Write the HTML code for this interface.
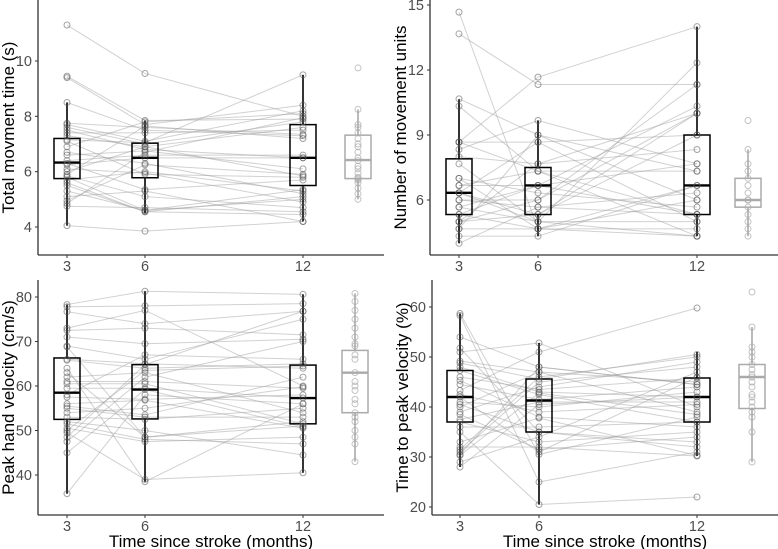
<!DOCTYPE html>
<html><head><meta charset="utf-8"><style>
html,body{margin:0;padding:0;background:#fff;}
svg{display:block;font-family:"Liberation Sans",Arial,sans-serif;}
</style></head><body>
<svg id="chart" width="778" height="549" viewBox="0 0 778 549"></svg>
<script>
// x categories
const categories = ["3","6","12"];
// Panel A: total movement time (s)
const aT3 = [11.3,9.45,9.4,8.5,7.75,7.7,7.6,7.5,7.3,7.15,7.1,6.7,6.6,6.4,6.3,6.25,6.1,5.9,5.85,5.8,5.7,5.6,5.5,5.1,4.95,4.85,4.75,4.05,6.9,7.4,5.3,6.0];
const aT6 = [9.55,7.85,7.7,7.5,7.6,7.1,7.0,6.8,6.9,7.05,5.9,6.3,6.75,6.6,5.35,6.5,5.95,7.65,5.1,4.6,6.0,4.55,4.55,5.3,6.25,6.7,4.7,3.85,7.8,7.4,4.6,6.9];
const aT12 = [8.0,7.9,8.4,7.3,7.35,8.2,7.8,6.5,7.6,9.5,5.8,5.2,6.1,6.6,5.7,6.5,4.9,7.2,4.7,5.0,5.3,5.1,4.45,4.2,5.9,7.95,4.55,4.2,8.1,7.5,5.35,5.85];
const aCtrl = [9.75,8.25,7.7,7.6,7.4,7.2,7.0,6.9,6.7,6.5,6.4,6.2,6.1,5.95,5.8,5.75,5.7,5.6,5.4,5.2,5.0];
const aBoxes = [[4.05,5.75,6.33,7.2,8.5],[4.5,5.78,6.5,7.03,7.85],[4.2,5.5,6.5,7.7,9.5],[5.0,5.75,6.42,7.32,8.25]];
const aTicks = [4,6,8,10];
// Panel B: number of movement units
const bT3 = [14.67,13.67,10.67,10.33,8.67,8.67,8.33,8.0,7.67,7.0,6.67,6.67,6.33,6.33,6.0,6.0,5.67,5.33,5.33,5.0,5.0,4.67,4.67,4.33,4.0,8.67,7.0,5.67,6.33,5.0];
const bT6 = [4.67,11.33,9.0,7.33,11.67,8.67,9.67,7.67,5.0,6.33,7.33,6.67,5.33,8.67,6.0,5.67,5.0,4.67,6.67,5.33,7.67,9.0,4.67,4.33,5.67,7.33,4.67,6.67,5.0,6.0];
const bT12 = [4.33,11.33,6.0,5.33,14.0,9.0,7.67,10.0,12.33,5.67,7.33,10.33,9.0,5.0,11.33,6.33,4.33,6.67,5.33,10.0,8.33,7.33,4.67,6.67,5.33,4.33,6.0,7.67,5.0,10.0];
const bCtrl = [9.67,8.33,7.67,7.33,7.0,6.67,6.33,6.0,6.0,5.67,5.33,5.0,4.67,4.33];
const bBoxes = [[4.0,5.33,6.33,7.9,10.65],[4.33,5.33,6.67,7.5,9.67],[4.33,5.33,6.67,9.0,14.0],[4.33,5.67,6.0,7.0,8.33]];
const bTicks = [6,9,12,15];
// Panel C: peak hand velocity (cm/s)
const cT3 = [78.3,77.8,76.7,73,72.5,71,69,68.8,66,65.8,64,62,61,60.5,59.5,57.5,56,55.5,55,53,52,51.5,50.5,49.5,48.5,47.5,45,35.8,58,63,54,50];
const cT6 = [81.3,78,74,77,73,69.5,66,48.5,65,64,38.5,63,61,60.5,59.5,57,56.8,53.5,53,52.5,50,48,47.5,39,64.8,62,59.2,58,67,48.5,55,63.5];
const cT12 = [80.6,78.5,76.8,60,71.5,70.5,75,52,64,65,56,54,59.5,51.5,57.3,58,50.5,62,53,55,44.5,47,48.5,40.5,76.8,70,50.8,56,66,51,59.8,64.5];
const cCtrl = [80.8,79,77,75,73,71,69.5,69,67,66,63,61,60,59,57,56,54,53,52,50,48.5,47,43];
const cBoxes = [[35.8,52.5,58.5,66.3,78.3],[38.5,52.6,59.2,64.8,81.3],[40.5,51.5,57.3,64.7,80.6],[43,54,63,68,80.8]];
const cTicks = [40,50,60,70,80];
// Panel D: time to peak velocity (%)
const dT3 = [58.7,58.3,54,51.8,51,49.2,48.8,48,47.3,45.3,44.5,43.3,42,41,40.5,40,39,37.5,37,35,33,32,31.5,31,30.5,30.3,29,28,38.5,46,36,42.5];
const dT6 = [30.5,25,48,35,52.8,47,45.6,43,42.5,38,41.5,51,31,40,35,47,44,41,33,20.5,37.8,32,46,45,48,42.8,34,40.5,31.5,43.5,36,39];
const dT12 = [38,31,44.5,33,40,45,50.5,42,37,36,44,59.8,46,43,32,39,49,41,35,22,30.3,30.2,50,48,44.5,38.5,47,42,34,45.8,37,40.5];
const dCtrl = [63,56,52,51,50,48.5,47.5,46.5,46,45,44,42.5,42,41,40,39,38,35,29];
const dBoxes = [[28,37,42,47.3,58.7],[20.5,35,41.3,45.6,52.8],[30.2,37,42,45.8,51],[29,39.7,46,48.5,56]];
const dTicks = [20,30,40,50,60];

const NS="http://www.w3.org/2000/svg";
const svg=document.getElementById('chart');
function mk(tag,attrs,parent){const e=document.createElementNS(NS,tag);for(const k in attrs)e.setAttribute(k,attrs[k]);(parent||svg).appendChild(e);return e;}

function panel(p){
  const g=mk('g',{});
  
  
  const y=v=>p.y0+(v-p.v0)*(p.y1-p.y0)/(p.v1-p.v0);
  const xs=p.xs;
  const lg=mk('g',{},g);
  
  
  for(let i=0;i<p.t3.length;i++){
    const l=mk('polyline',{points:`${xs[0]},${y(p.t3[i])} ${xs[1]},${y(p.t6[i])} ${xs[2]},${y(p.t12[i])}`,fill:'none',stroke:'#999','stroke-opacity':0.45,'stroke-width':1},lg);
    
    
  }
  p.boxes.forEach((b,i)=>{
    const ctrl=i===3, col=ctrl?'#aaa':'#000', x=xs[i], w=26;
    const bg=mk('g',{},g);
    
    
    mk('line',{x1:x,x2:x,y1:y(b[0]),y2:y(b[1]),stroke:col,'stroke-width':1.6},bg);
    mk('line',{x1:x,x2:x,y1:y(b[3]),y2:y(b[4]),stroke:col,'stroke-width':1.6},bg);
    mk('rect',{x:x-w/2,y:y(b[3]),width:w,height:y(b[1])-y(b[3]),fill:'none',stroke:col,'stroke-width':1.5},bg);
    mk('line',{x1:x-w/2,x2:x+w/2,y1:y(b[2]),y2:y(b[2]),stroke:col,'stroke-width':2.4},bg);
  });
  const sets=[p.t3,p.t6,p.t12,p.ctrl];
  sets.forEach((s,i)=>{
    s.forEach(v=>{
      const c=mk('circle',{cx:xs[i],cy:y(v),r:3,fill:'none',stroke:i===3?'#aaa':'#555','stroke-opacity':i===3?0.7:0.55,'stroke-width':1},g);
      
      
    });
  });
  mk('line',{x1:p.ax,x2:p.ax,y1:p.top,y2:p.ay,stroke:'#333','stroke-width':1.3},g);
  mk('line',{x1:p.ax,x2:p.right,y1:p.ay,y2:p.ay,stroke:'#333','stroke-width':1.3},g);
  p.ticks.forEach(t=>{
    mk('line',{x1:p.ax-3,x2:p.ax,y1:y(t),y2:y(t),stroke:'#333','stroke-width':1},g);
    const tx=mk('text',{x:p.ax-6,y:y(t)+5,'text-anchor':'end','font-size':14.5,fill:'#4d4d4d'},g);
    tx.textContent=t;
    
    
  });
  categories.forEach((c,i)=>{
    mk('line',{x1:xs[i],x2:xs[i],y1:p.ay,y2:p.ay+3,stroke:'#333','stroke-width':1},g);
    const tx=mk('text',{x:xs[i],y:p.ay+16,'text-anchor':'middle','font-size':14.5,fill:'#4d4d4d'},g);
    tx.textContent=c;
    
    
  });
  const yt=mk('text',{x:0,y:0,transform:`translate(${p.ax-24},${(p.top+p.ay)/2}) rotate(-90)`,'text-anchor':'middle','font-size':17,fill:'#000'},g);
  yt.textContent=p.ylabel;
  
  
  if(p.xlabel){
    const xt=mk('text',{x:(p.ax+p.right)/2,y:p.ay+32,'text-anchor':'middle','font-size':17,fill:'#000'},g);
    xt.textContent='Time since stroke (months)';
    
    
  }
}
panel({name:'panel-movement-time',t3:aT3,t6:aT6,t12:aT12,ctrl:aCtrl,boxes:aBoxes,ticks:aTicks,v0:4,v1:10,y0:227,y1:61,xs:[67,145,303,358],ax:38,ay:255,top:0,right:384,ylabel:'Total movment time (s)'});
panel({name:'panel-movement-units',t3:bT3,t6:bT6,t12:bT12,ctrl:bCtrl,boxes:bBoxes,ticks:bTicks,v0:6,v1:15,y0:200,y1:5,xs:[459,538,697,748],ax:430,ay:255,top:0,right:778,ylabel:'Number of movement units'});
panel({name:'panel-peak-velocity',t3:cT3,t6:cT6,t12:cT12,ctrl:cCtrl,boxes:cBoxes,ticks:cTicks,v0:40,v1:80,y0:475,y1:297,xs:[67,145,303,355],ax:38,ay:515,top:280,right:384,ylabel:'Peak hand velocity (cm/s)',xlabel:true});
panel({name:'panel-time-to-peak',t3:dT3,t6:dT6,t12:dT12,ctrl:dCtrl,boxes:dBoxes,ticks:dTicks,v0:20,v1:60,y0:507,y1:307,xs:[460,539,697,752],ax:432,ay:515,top:280,right:778,ylabel:'Time to peak velocity (%)',xlabel:true});
</script>
</body></html>
